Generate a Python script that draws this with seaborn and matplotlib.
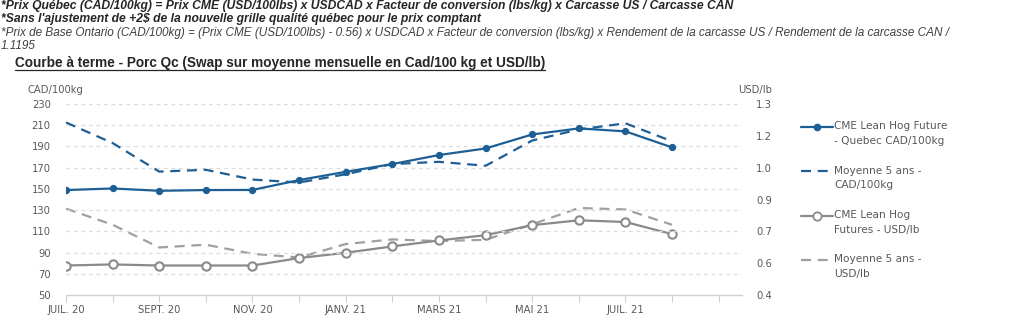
import matplotlib
matplotlib.use("Agg")
import matplotlib.pyplot as plt
from matplotlib import font_manager
from matplotlib.lines import Line2D
from matplotlib.legend_handler import HandlerLine2D
import seaborn as sns
import pandas as pd
import numpy as np

# ---------------- data ----------------
months = ["JUIL. 20", "AOÛT 20", "SEPT. 20", "OCT. 20", "NOV. 20", "DÉC. 20",
          "JANV. 21", "FÉVR. 21", "MARS 21", "AVR. 21", "MAI 21", "JUIN 21",
          "JUIL. 21", "AOÛT 21"]
quebec_cad = [148.9, 150.4, 148.2, 148.9, 149.0, 158.3, 166.1, 173.4, 181.9,
              188.1, 201.3, 207.0, 204.2, 189.1]
moy5_cad = [212.6, 193.2, 166.3, 168.0, 158.8, 156.0, 163.8, 173.4, 175.5,
            171.8, 195.6, 206.0, 211.8, 194.8]
cme_usd = [0.539, 0.544, 0.539, 0.539, 0.539, 0.574, 0.599, 0.629, 0.657,
           0.682, 0.729, 0.752, 0.744, 0.687]
moy5_usd = [0.807, 0.731, 0.624, 0.637, 0.594, 0.577, 0.640, 0.662, 0.654,
            0.660, 0.733, 0.810, 0.803, 0.731]
xtick_labels = ["JUIL. 20", "SEPT. 20", "NOV. 20", "JANV. 21", "MARS 21", "MAI 21", "JUIL. 21"]
left_ticks = [50, 70, 90, 110, 130, 150, 170, 190, 210, 230]
right_ticks = [0.4, 0.55, 0.7, 0.85, 1.0, 1.15, 1.3]
right_tick_labels = ["0.4", "0.6", "0.7", "0.9", "1.0", "1.2", "1.3"]
legend_labels = ["CME Lean Hog Future\n- Quebec CAD/100kg", "Moyenne 5 ans -\nCAD/100kg",
                 "CME Lean Hog\nFutures - USD/lb", "Moyenne 5 ans -\nUSD/lb"]

header_lines = [
    "*Prix Québec (CAD/100kg) = Prix CME (USD/100lbs) x USDCAD x Facteur de conversion (lbs/kg) x Carcasse US / Carcasse CAN",
    "*Sans l'ajustement de +2\\$ de la nouvelle grille qualité québec pour le prix comptant",
    "*Prix de Base Ontario (CAD/100kg) = (Prix CME (USD/100lbs) - 0.56) x USDCAD x Facteur de conversion (lbs/kg) x Rendement de la carcasse US / Rendement de la carcasse CAN /",
    "1.1195",
]
title_text = "Courbe à terme - Porc Qc (Swap sur moyenne mensuelle en Cad/100 kg et USD/lb)"

# ---------------- style ----------------
sns.set_theme(style="white")
avail = {f.name for f in font_manager.fontManager.ttflist}
narrow = "Liberation Sans Narrow" if "Liberation Sans Narrow" in avail else "Liberation Sans"
plt.rcParams["font.family"] = ["DejaVu Sans"]

BLUE = "#1d5f94"
GREY = "#8a8a8a"
GREY_D = "#a0a0a0"
TXT = "#595959"
DASH = (0, (4.5, 3))

df = pd.DataFrame({"x": np.arange(len(months)), "quebec": quebec_cad, "moy5cad": moy5_cad,
                   "cme": cme_usd, "moy5usd": moy5_usd})

fig = plt.figure(figsize=(10.24, 3.30), dpi=100)
ax = fig.add_axes([66 / 1024, 1 - 295 / 330, (742 - 66) / 1024, (295 - 104) / 330])
ax2 = ax.twinx()

# grey series on right axis
sns.lineplot(data=df, x="x", y="moy5usd", ax=ax2, color=GREY_D, lw=1.6,
             linestyle=DASH, zorder=2)
sns.lineplot(data=df, x="x", y="cme", ax=ax2, color=GREY, lw=1.6, marker="o",
             markersize=6, markerfacecolor="white", markeredgecolor=GREY,
             markeredgewidth=1.5, zorder=3)
# blue series on left axis
sns.lineplot(data=df, x="x", y="moy5cad", ax=ax, color=BLUE, lw=1.6,
             linestyle=DASH, zorder=3)
sns.lineplot(data=df, x="x", y="quebec", ax=ax, color=BLUE, lw=1.6, marker="o",
             markersize=4.5, markeredgecolor=BLUE, markerfacecolor=BLUE, zorder=4)

ax.set_xlim(0, 14.5)
ax.set_ylim(50, 230)
ax2.set_ylim(0.4, 1.3)
ax.set_xlabel("")
ax.set_ylabel("")
ax2.set_ylabel("")

ax.set_yticks(left_ticks)
ax.set_yticklabels([str(t) for t in left_ticks])
ax2.set_yticks(right_ticks)
ax2.set_yticklabels(right_tick_labels)

ax.set_xticks(np.arange(0, 15))
ax.set_xticklabels([xtick_labels[i // 2] if i % 2 == 0 and i // 2 < len(xtick_labels) else ""
                    for i in range(15)])

for a in (ax, ax2):
    for s in a.spines.values():
        s.set_visible(False)
ax.spines["bottom"].set_visible(True)
ax.spines["bottom"].set_color("#d0d0d0")
ax.spines["bottom"].set_linewidth(1.0)

ax.tick_params(axis="x", length=5, width=0.8, color="#d0d0d0", labelsize=7.2,
               labelcolor=TXT, pad=2, direction="out", bottom=True)
ax.tick_params(axis="y", length=0, labelsize=7.2, labelcolor=TXT, pad=11)
ax2.tick_params(axis="y", length=0, labelsize=7.2, labelcolor=TXT, pad=10)

for t in left_ticks[1:]:
    ax.axhline(t, color="#dcdcdc", lw=0.9, linestyle=(0, (3, 3)), zorder=0)

ax.set_zorder(ax2.get_zorder() + 1)
ax.patch.set_visible(False)

fig.text(28 / 1024, 1 - 90 / 330, "CAD/100kg", fontsize=7.2, color=TXT, va="center", ha="left")
fig.text(738 / 1024, 1 - 90 / 330, "USD/lb", fontsize=7.2, color=TXT, va="center", ha="left")


class UpHandler(HandlerLine2D):
    """Line handle aligned with the first line of a two-line label."""
    def create_artists(self, legend, orig_handle, xdescent, ydescent, width, height,
                       fontsize, trans):
        arts = super().create_artists(legend, orig_handle, xdescent, ydescent, width,
                                      height, fontsize, trans)
        for a in arts:
            a.set_ydata(np.asarray(a.get_ydata(), float) + 5.0)
        return arts


# legend
handles = [
    Line2D([], [], color=BLUE, lw=1.6, marker="o", markersize=4.5, markerfacecolor=BLUE),
    Line2D([], [], color=BLUE, lw=1.6, linestyle=DASH),
    Line2D([], [], color=GREY, lw=1.6, marker="o", markersize=6, markerfacecolor="white",
           markeredgecolor=GREY, markeredgewidth=1.3),
    Line2D([], [], color=GREY_D, lw=1.6, linestyle=DASH),
]
leg = fig.legend(handles, legend_labels, loc="upper left", bbox_to_anchor=(797 / 1024, 1 - 117 / 330),
                 frameon=False, fontsize=7.6, labelcolor=TXT, handlelength=3.0,
                 handletextpad=0.15, labelspacing=1.85, borderaxespad=0,
                 handler_map={Line2D: UpHandler()})
for t in leg.get_texts():
    t.set_linespacing(1.6)

# header text
hdr_y = [6, 19, 33, 46]
weights = ["bold", "bold", "normal", "normal"]
sizes = [8.7, 8.7, 8.5, 8.5]
colors = ["#262626", "#262626", "#404040", "#404040"]
for txt, y, w, c, s in zip(header_lines, hdr_y, weights, colors, sizes):
    fig.text(1 / 1024, 1 - y / 330, txt, fontsize=s, fontstyle="italic", fontweight=w,
             family=narrow, color=c, va="center", ha="left")

tt = fig.text(15 / 1024, 1 - 63.5 / 330, title_text, fontsize=9.85, fontweight="bold",
              family="Liberation Sans", color="#262626", va="center", ha="left")
fig.canvas.draw()
bb = tt.get_window_extent(renderer=fig.canvas.get_renderer())
uy = (bb.y0 + 0.5) / fig.bbox.height
fig.add_artist(Line2D([bb.x0 / fig.bbox.width, bb.x1 / fig.bbox.width], [uy, uy],
                      color="#262626", lw=0.9, transform=fig.transFigure))

fig.savefig("out.png", dpi=100, facecolor="white")
